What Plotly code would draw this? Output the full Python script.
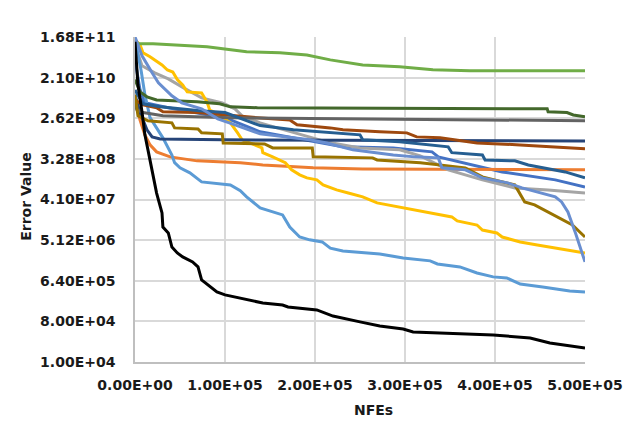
import plotly.graph_objects as go

# ---------------- data ----------------
x_ticks = [0, 100000, 200000, 300000, 400000, 500000]
x_tick_text = ["0.00E+00", "1.00E+05", "2.00E+05", "3.00E+05", "4.00E+05", "5.00E+05"]
y_ticks = [1e4, 8e4, 6.4e5, 5.12e6, 4.096e7, 3.2768e8, 2.62144e9, 2.097152e10, 1.6777216e11]
y_tick_text = ["1.00E+04", "8.00E+04", "6.40E+05", "5.12E+06", "4.10E+07",
               "3.28E+08", "2.62E+09", "2.10E+10", "1.68E+11"]
x_title = "NFEs"
y_title = "Error Value"

x_s1 = [0, 5.6e3, 1.1e4, 3.7e4, 7.4e4, 1.0e5, 1.39e5, 2.02e5, 2.31e5, 2.87e5, 3.3e5, 3.37e5, 4.08e5, 4.67e5, 5.0e5]
y_s1 = [5.2e10, 1.12e10, 5.77e9, 4.5e9, 3.29e9, 2.7e9, 1.31e9, 7.83e8, 6.06e8, 5.75e8, 4.69e8, 3.63e8, 1.68e8, 1.12e8, 7.8e7]

x_s2 = [0, 5.6e3, 1.1e4, 1.67e4, 2.4e4, 3.9e4, 6.9e4, 1.17e5, 1.42e5, 1.98e5, 2.53e5, 5.0e5]
y_s2 = [6.7e9, 2.4e9, 1.12e9, 6.7e8, 4.69e8, 3.63e8, 2.96e8, 2.7e8, 2.4e8, 2.07e8, 1.96e8, 1.87e8]

x_s3 = [0, 7.8e3, 2.2e4, 3.7e4, 5.6e4, 7.4e4, 9.7e4, 1.11e5, 1.19e5, 1.39e5, 1.58e5, 1.94e5, 2.13e5,
        2.5e5, 2.94e5, 3.17e5, 3.48e5, 3.86e5, 4.22e5, 4.59e5, 5.0e5]
y_s3 = [1.12e11, 3.84e10, 2.68e10, 1.97e10, 1.18e10, 7.45e9, 5.77e9, 4.25e9, 2.97e9, 2.07e9, 1.6e9, 1.01e9, 7.83e8,
        5.75e8, 5.2e8, 3.82e8, 1.87e8, 1.12e8, 7.4e7, 6.7e7, 5.7e7]

x_s4 = [0, 5.6e3, 8.9e3, 1.67e4, 3.0e4, 3.6e4, 4.2e4, 4.7e4, 5.3e4, 5.8e4, 7.4e4, 8.0e4, 8.3e4, 8.9e4, 9.8e4,
        1.06e5, 1.14e5, 1.19e5, 1.41e5, 1.42e5, 1.53e5, 1.67e5, 1.74e5, 1.83e5, 1.91e5, 2.02e5, 2.09e5, 2.24e5,
        2.37e5, 2.53e5, 2.69e5, 2.98e5, 3.2e5, 3.52e5, 3.58e5, 3.8e5, 3.86e5, 4.02e5, 4.08e5, 4.28e5, 4.47e5,
        4.69e5, 4.83e5, 5.0e5]
y_s4 = [1.45e11, 1.12e11, 7.5e10, 6.1e10, 4.0e10, 3.1e10, 2.8e10, 1.9e10, 1.45e10, 1.01e10, 9.6e9, 6.07e9, 4.0e9,
        3.5e9, 2.7e9, 2.07e9, 1.24e9, 8.7e8, 5.75e8, 4.5e8, 3.63e8, 2.7e8, 1.87e8, 1.45e8, 1.24e8, 1.12e8, 8.65e7,
        6.7e7, 5.7e7, 4.7e7, 3.44e7, 2.67e7, 2.17e7, 1.68e7, 1.37e7, 1.11e7, 8.6e6, 7.4e6, 6.0e6, 4.67e6, 4.0e6,
        3.4e6, 3.1e6, 2.66e6]

x_s5 = [0, 6.7e3, 1.1e4, 1.67e4, 3.1e4, 4.1e4, 4.4e4, 5.0e4, 6.1e4, 7.4e4, 1.06e5, 1.17e5, 1.24e5, 1.39e5,
        1.64e5, 1.72e5, 1.83e5, 1.94e5, 2.08e5, 2.17e5, 2.31e5, 2.53e5, 2.72e5, 2.98e5, 3.28e5, 3.36e5, 3.61e5,
        3.8e5, 3.98e5, 4.13e5, 4.28e5, 4.53e5, 4.83e5, 5.0e5]
y_s5 = [1.45e11, 3.1e10, 8.7e9, 2.7e9, 9.6e8, 4.0e8, 2.7e8, 2.07e8, 1.6e8, 1.01e8, 8.65e7, 6.4e7, 4.7e7, 2.67e7,
        1.86e7, 1.0e7, 6.0e6, 5.2e6, 4.67e6, 3.4e6, 2.95e6, 2.66e6, 2.52e6, 2.06e6, 1.77e6, 1.51e6, 1.3e6,
        9.5e5, 7.8e5, 7.4e5, 5.4e5, 4.66e5, 3.8e5, 3.6e5]

x_s6 = [0, 2.0e4, 8.0e4, 1.24e5, 1.61e5, 1.91e5, 2.17e5, 2.53e5, 2.94e5, 3.31e5, 3.72e5, 5.0e5]
y_s6 = [1.19e11, 1.19e11, 1.02e11, 7.9e10, 7.5e10, 6.7e10, 5.2e10, 4.0e10, 3.65e10, 3.13e10, 2.97e10, 2.97e10]

x_s7 = [0, 5.6e3, 1.33e4, 1.9e4, 2.8e4, 9.8e4, 5.0e5]
y_s7 = [8.7e9, 3.5e9, 1.45e9, 1.01e9, 9.1e8, 8.7e8, 8.2e8]

x_s8 = [0, 8.9e3, 2.4e4, 3.1e4, 6.9e4, 9.8e4, 1.36e5, 1.72e5, 1.8e5, 2.17e5, 2.31e5, 2.72e5, 3.02e5, 3.13e5,
        3.39e5, 3.8e5, 4.28e5, 5.0e5]
y_s8 = [6.7e9, 5.2e9, 4.5e9, 3.64e9, 3.5e9, 3.1e9, 2.7e9, 2.4e9, 1.87e9, 1.6e9, 1.45e9, 1.31e9, 1.24e9, 1.01e9,
        9.6e8, 7.4e8, 6.7e8, 5.47e8]

x_s9 = [0, 2.2e3, 8.9e3, 3.1e4, 1.06e5, 2.61e5, 5.0e5]
y_s9 = [5.2e9, 4.0e9, 3.5e9, 2.97e9, 2.7e9, 2.54e9, 2.3e9]

x_s10 = [0, 3.3e3, 1.44e4, 4.1e4, 4.4e4, 7.0e4, 7.4e4, 9.7e4, 9.8e4, 1.44e5, 1.53e5, 1.97e5, 1.98e5, 2.64e5,
         2.69e5, 3.17e5, 3.67e5, 3.86e5, 4.22e5, 4.33e5, 4.44e5, 4.59e5, 4.7e5, 4.86e5, 5.0e5]
y_s10 = [8.7e9, 2.97e9, 2.3e9, 2.07e9, 1.6e9, 1.52e9, 1.24e9, 1.18e9, 7.4e8, 7.06e8, 5.75e8, 5.75e8, 3.63e8,
         3.45e8, 3.1e8, 2.7e8, 2.07e8, 1.3e8, 8.65e7, 3.62e7, 3.1e7, 2.17e7, 1.68e7, 1.11e7, 6.0e6]

x_s11 = [0, 8.9e3, 2.8e4, 7.2e4, 1.0e5, 1.39e5, 1.76e5, 2.06e5, 2.5e5, 2.53e5, 2.94e5, 3.48e5, 3.52e5, 3.86e5,
         3.89e5, 4.22e5, 4.37e5, 4.78e5, 5.0e5]
y_s11 = [1.12e10, 5.48e9, 4.7e9, 3.83e9, 3.5e9, 1.8e9, 1.45e9, 1.31e9, 1.12e9, 8.7e8, 7.83e8, 6.06e8, 4.5e8,
         4.0e8, 3.1e8, 2.96e8, 2.4e8, 1.68e8, 1.24e8]

x_s12 = [0, 5.6e3, 1.33e4, 2.4e4, 6.9e4, 9.4e4, 1.06e5, 1.36e5, 4.58e5, 4.59e5, 4.8e5, 4.87e5, 5.0e5]
y_s12 = [1.9e10, 1.01e10, 7.85e9, 6.7e9, 6.07e9, 5.48e9, 4.7e9, 4.5e9, 4.25e9, 3.64e9, 3.5e9, 3.1e9, 2.82e9]

x_s13 = [0, 7.8e3, 1.9e4, 2.6e4, 4.1e4, 5.2e4, 7.4e4, 9.2e4, 1.08e5, 1.39e5, 1.94e5, 2.13e5, 2.42e5, 2.87e5,
         3.11e5, 3.37e5, 3.41e5, 3.67e5, 3.86e5, 4.14e5, 4.3e5, 4.48e5, 4.67e5, 4.74e5, 4.81e5, 4.89e5, 5.0e5]
y_s13 = [1.69e11, 6.41e10, 2.68e10, 1.61e10, 8.26e9, 5.77e9, 4.25e9, 2.54e9, 1.97e9, 1.18e9, 8.7e8, 7.4e8,
         5.2e8, 4.0e8, 3.63e8, 3.45e8, 2.07e8, 1.87e8, 1.24e8, 9.6e7, 7.4e7, 6.04e7, 4.7e7, 3.62e7, 2.17e7,
         7.8e6, 1.68e6]

x_s14 = [0, 3.3e3, 7.8e3, 1.1e4, 1.44e4, 1.9e4, 2.4e4, 3.0e4, 3.1e4, 3.7e4, 4.1e4, 4.7e4, 5.3e4, 6.4e4, 7.0e4,
         7.4e4, 8.1e4, 9.1e4, 1.0e5, 1.17e5, 1.42e5, 1.64e5, 1.7e5, 2.02e5, 2.09e5, 2.2e5, 2.5e5, 2.72e5, 2.98e5,
         3.09e5, 3.98e5, 4.39e5, 4.61e5, 5.0e5]
y_s14 = [1.31e11, 1.45e10, 3.64e9, 1.12e9, 5.2e8, 1.87e8, 5.7e7, 2.06e7, 1.0e7, 7.4e6, 3.6e6, 2.66e6, 2.17e6,
         1.68e6, 1.3e6, 6.7e5, 5.2e5, 3.6e5, 3.1e5, 2.65e5, 2.05e5, 1.85e5, 1.67e5, 1.44e5, 1.29e5, 1.05e5, 7.8e4,
         6.3e4, 5.4e4, 4.65e4, 4.0e4, 3.4e4, 2.65e4, 2.05e4]

series = [
    (x_s1, y_s1, "#4472C4"), (x_s2, y_s2, "#ED7D31"), (x_s3, y_s3, "#A5A5A5"),
    (x_s4, y_s4, "#FFC000"), (x_s5, y_s5, "#5B9BD5"), (x_s6, y_s6, "#70AD47"),
    (x_s7, y_s7, "#264478"), (x_s8, y_s8, "#9E480E"), (x_s9, y_s9, "#636363"),
    (x_s10, y_s10, "#997300"), (x_s11, y_s11, "#255E91"), (x_s12, y_s12, "#43682B"),
    (x_s13, y_s13, "#698ED0"), (x_s14, y_s14, "#000000"),
]

fig = go.Figure()
for xs, ys, col in series:
    fig.add_trace(go.Scatter(x=xs, y=ys, mode="lines",
                             line=dict(color=col, width=3), showlegend=False,
                             hoverinfo="skip"))

FONT = dict(family="DejaVu Sans", size=14, color="#1a1a1a", weight="bold")

fig.update_layout(
    width=636, height=428,
    margin=dict(l=135, r=51, t=37, b=66),
    paper_bgcolor="white", plot_bgcolor="white",
    font=FONT,
    showlegend=False,
    annotations=[
        dict(text=x_title, xref="paper", yref="paper", x=0.531, y=-0.148,
             xanchor="center", yanchor="middle", showarrow=False, font=FONT),
        dict(text=y_title, xref="paper", yref="paper", x=-0.244, y=0.509,
             xanchor="center", yanchor="middle", textangle=-90, showarrow=False, font=FONT),
    ],
)
fig.update_xaxes(
    range=[0, 500000], tickvals=x_ticks, ticktext=x_tick_text,
    showgrid=True, gridcolor="#D9D9D9", gridwidth=1.5,
    showline=True, linecolor="#BFBFBF", linewidth=1.5,
    ticks="", ticklabelstandoff=9, zeroline=False, tickfont=FONT,
)
fig.update_yaxes(
    type="log", range=[4, 11.2247], tickvals=y_ticks, ticktext=y_tick_text,
    showgrid=True, gridcolor="#D9D9D9", gridwidth=1.5,
    showline=True, linecolor="#BFBFBF", linewidth=1.5,
    ticks="", ticklabelstandoff=15, zeroline=False, tickfont=FONT,
)

fig.write_html("out.html", config={"displayModeBar": False},
               post_script="document.body.style.margin='0px';")
